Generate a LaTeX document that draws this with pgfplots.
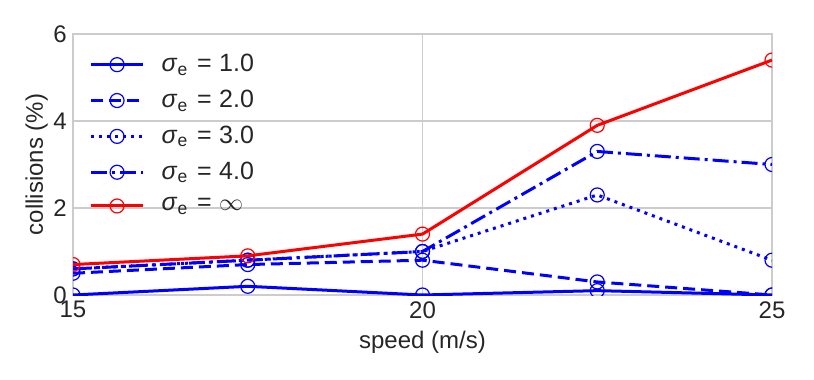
\documentclass[border=0pt]{standalone}
\usepackage{pgfplots}
\pgfplotsset{compat=1.18}
\usepackage{fontspec}
\setmainfont{Liberation Sans}
\definecolor{txt}{HTML}{262626}
\definecolor{gridc}{HTML}{CCCCCC}
\newcommand{\sig}{\hspace{6.5pt}\textit{σ}\textsubscript{e}\hspace{0.35em}=\hspace{0.3em}}
\begin{document}
\fontsize{12}{14}\selectfont
\begin{tikzpicture}
\begin{axis}[
  scale only axis, width=349.5pt, height=130.5pt,
  xmin=15, xmax=25, ymin=0, ymax=6,
  xtick={15,20,25}, ytick={0,2,4,6},
  major tick length=0pt,
  grid=major, major grid style={gridc, line width=0.6pt},
  axis line style={gridc, line width=0.8pt},
  tick label style={txt, font=\fontsize{12}{14}\selectfont},
  label style={txt, font=\fontsize{12}{14}\selectfont},
  /pgf/number format/assume math mode=true,
  xticklabel style={yshift=1pt},
  yticklabel style={xshift=1pt},
  xlabel={speed (m/s)}, ylabel={collisions (\%)},
  xlabel style={yshift=2pt},
  ylabel style={yshift=-5.5pt},
  clip marker paths=true,
  every axis plot/.append style={line width=1.5pt, mark=o, mark size=3.5pt, mark options={solid, line width=0.6pt, fill=none}},
  legend style={at={(0.0143,0.955)}, anchor=north west, draw=none, fill=none, text=txt, font=\fontsize{12.5}{14}\selectfont, row sep=3.4pt},
  legend cell align=left,
  legend image code/.code={\draw[mark repeat=2,mark phase=2,#1] plot coordinates {(0cm,0cm)(0.46cm,0cm)(0.92cm,0cm)};},
]
\addplot[blue, solid] coordinates {(15,0) (17.5,0.2) (20,0) (22.5,0.1) (25,0)};
\addlegendentry{\sig 1.0}
\addplot[blue, dash pattern=on 6pt off 3pt] coordinates {(15,0.5) (17.5,0.7) (20,0.8) (22.5,0.3) (25,0)};
\addlegendentry{\sig 2.0}
\addplot[blue, dash pattern=on 1.5pt off 2.5pt] coordinates {(15,0.6) (17.5,0.8) (20,1.0) (22.5,2.3) (25,0.8)};
\addlegendentry{\sig 3.0}
\addplot[blue, dash pattern=on 8pt off 2.5pt on 1.5pt off 2.5pt] coordinates {(15,0.6) (17.5,0.8) (20,1.0) (22.5,3.3) (25,3.0)};
\addlegendentry{\sig 4.0}
\addplot[red, solid] coordinates {(15,0.7) (17.5,0.9) (20,1.4) (22.5,3.9) (25,5.4)};
\addlegendentry{\sig $\infty$}
\end{axis}
\path (current axis.south west) ++(-36.5pt,-42.5pt) rectangle ++(407pt,190pt);
\end{tikzpicture}
\end{document}
